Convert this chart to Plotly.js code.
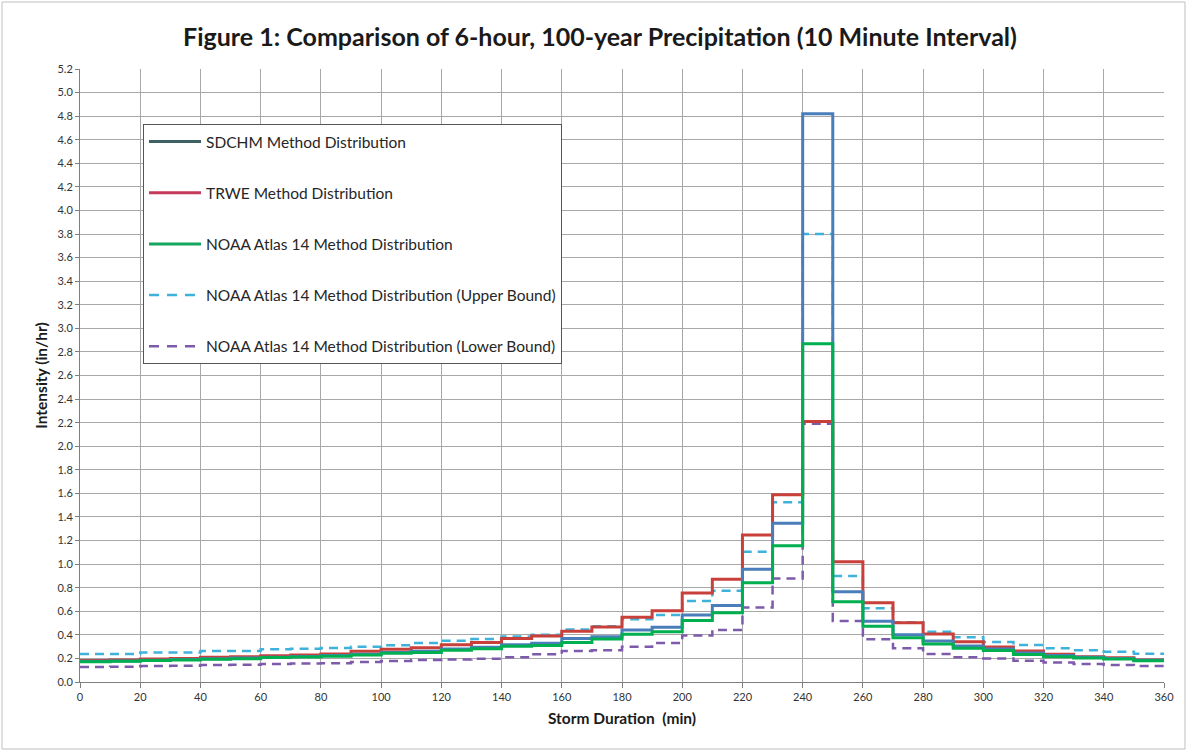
<!DOCTYPE html>
<html>
<head>
<meta charset="utf-8">
<script src="https://cdn.plot.ly/plotly-3.0.1.min.js"></script>
<style>html,body{margin:0;padding:0;background:#fff;}#chart{width:1188px;height:753px;}</style>
</head>
<body>
<div id="chart"></div>
<script>
// Start of each 10-minute interval (min)
const duration = [0,10,20,30,40,50,60,70,80,90,100,110,120,130,140,150,160,170,180,190,200,210,220,230,240,250,260,270,280,290,300,310,320,330,340,350];
const stormEnd = 360;

// Intensity (in/hr) per interval
const sdchm = [0.175,0.178,0.185,0.19,0.198,0.203,0.21,0.217,0.225,0.235,0.25,0.26,0.28,0.295,0.315,0.328,0.37,0.384,0.441,0.465,0.568,0.648,0.956,1.347,4.82,0.765,0.515,0.40,0.348,0.305,0.28,0.245,0.225,0.21,0.2,0.185];
const trwe = [0.183,0.187,0.195,0.2,0.21,0.215,0.222,0.229,0.237,0.26,0.278,0.29,0.315,0.335,0.37,0.39,0.43,0.467,0.549,0.605,0.755,0.871,1.247,1.588,2.21,1.02,0.673,0.503,0.407,0.342,0.296,0.263,0.236,0.215,0.205,0.187];
const noaa = [0.172,0.175,0.183,0.187,0.193,0.198,0.207,0.212,0.218,0.228,0.243,0.25,0.27,0.283,0.303,0.31,0.335,0.365,0.405,0.427,0.522,0.587,0.842,1.155,2.87,0.68,0.472,0.376,0.322,0.286,0.268,0.233,0.215,0.203,0.195,0.18];
const noaaUpper = [0.237,0.237,0.25,0.25,0.263,0.263,0.278,0.283,0.288,0.3,0.312,0.33,0.35,0.365,0.385,0.4,0.445,0.472,0.532,0.568,0.687,0.775,1.105,1.525,3.8,0.9,0.625,0.506,0.427,0.379,0.34,0.314,0.286,0.27,0.257,0.24];
const noaaLower = [0.127,0.13,0.136,0.138,0.144,0.147,0.153,0.157,0.16,0.17,0.178,0.187,0.19,0.197,0.21,0.236,0.264,0.27,0.30,0.33,0.395,0.441,0.632,0.878,2.19,0.518,0.362,0.286,0.237,0.21,0.2,0.18,0.165,0.153,0.145,0.136];

const seriesNames = [
  'SDCHM Method Distribution',
  'TRWE Method Distribution',
  'NOAA Atlas 14 Method Distribution',
  'NOAA Atlas 14 Method Distribution (Upper Bound)',
  'NOAA Atlas 14 Method Distribution (Lower Bound)'
];

const xs = duration.concat([stormEnd]);
function ext(a){ return a.concat([a[a.length-1]]); }

const plotStyles = [
  {color:'#4A7EBB', width:3, dash:'solid'},
  {color:'#C9403A', width:3, dash:'solid'},
  {color:'#00B050', width:3, dash:'solid'},
  {color:'#3FB2DB', width:2.5, dash:'9px,6px'},
  {color:'#7D5BAA', width:2.5, dash:'9px,6px'}
];
const legendStyles = [
  {color:'#3E6163', width:3, dash:'solid'},
  {color:'#C53A5A', width:3, dash:'solid'},
  {color:'#12A65E', width:3, dash:'solid'},
  {color:'#3FB2DB', width:2.5, dash:'10px,8px'},
  {color:'#7D5BAA', width:2.5, dash:'10px,8px'}
];
const values = [sdchm, trwe, noaa, noaaUpper, noaaLower];
const drawOrder = [3, 4, 1, 0, 2];

const traces = [];
drawOrder.forEach(i => {
  traces.push({
    x: xs, y: ext(values[i]), type:'scatter', mode:'lines',
    line: Object.assign({shape:'hv'}, plotStyles[i]),
    showlegend:false, hoverinfo:'skip'
  });
});
// legend entries
values.forEach((v, i) => {
  traces.push({
    x:[null], y:[null], type:'scatter', mode:'lines', name: seriesNames[i],
    legendgroup:'g'+i, legendrank: i+1,
    line: legendStyles[i], showlegend:true
  });
});

const L = 80, R = 1164, T = 69, B = 682;
const pw = R - L, ph = B - T;

const layout = {
  width:1188, height:753,
  margin:{l:L, r:1188-R, t:T, b:753-B, pad:0},
  paper_bgcolor:'#ffffff', plot_bgcolor:'#ffffff',
  font:{family:'Lato, "Liberation Sans", sans-serif', color:'#262626'},
  title:{text:'<b>Figure 1: Comparison of 6-hour, 100-year Precipitation (10 Minute Interval)</b>',
         font:{size:25, family:'Lato, "Liberation Sans", sans-serif', color:'#1a1a1a'},
         x:(600-0)/1188, xanchor:'center', y:1-37/753, yanchor:'middle'},
  xaxis:{
    range:[0,360], dtick:20, tick0:0, tickmode:'linear',
    showgrid:true, gridcolor:'#A8A8A8', gridwidth:1,
    showline:true, linecolor:'#7F7F7F', linewidth:1,
    ticks:'outside', ticklen:5, tickcolor:'#7F7F7F',
    tickfont:{size:11, color:'#333'},
    zeroline:false, mirror:false,
    title:{text:'<b>Storm Duration  (min)</b>', font:{size:15.5, color:'#1a1a1a'}, standoff:10}
  },
  yaxis:{
    range:[0,5.2], dtick:0.2, tick0:0, tickmode:'linear', tickformat:'.1f',
    showgrid:true, gridcolor:'#A8A8A8', gridwidth:1,
    showline:true, linecolor:'#7F7F7F', linewidth:1,
    ticks:'outside', ticklen:4, tickcolor:'#7F7F7F',
    tickfont:{size:11, color:'#333'},
    zeroline:false,
    title:{text:'<b>Intensity (in/hr)</b>', font:{size:15.5, color:'#1a1a1a'}, standoff:6}
  },
  legend:{
    x:(143-L)/pw, y:(B-124)/ph, xanchor:'left', yanchor:'top',
    bgcolor:'#ffffff', bordercolor:'#555555', borderwidth:1,
    font:{size:15.5, color:'#262626'},
    itemwidth:52, tracegroupgap:28, traceorder:'grouped'
  },
  shapes:[
    {type:'rect', xref:'paper', yref:'paper',
     x0:(2-L)/pw, x1:(1185-L)/pw, y0:(B-749)/ph, y1:(B-2)/ph,
     line:{color:'#BFBFBF', width:1}, fillcolor:'rgba(0,0,0,0)', layer:'below'}
  ],
  showlegend:true
};

Plotly.newPlot('chart', traces, layout, {displayModeBar:false, staticPlot:true});
</script>
</body>
</html>
